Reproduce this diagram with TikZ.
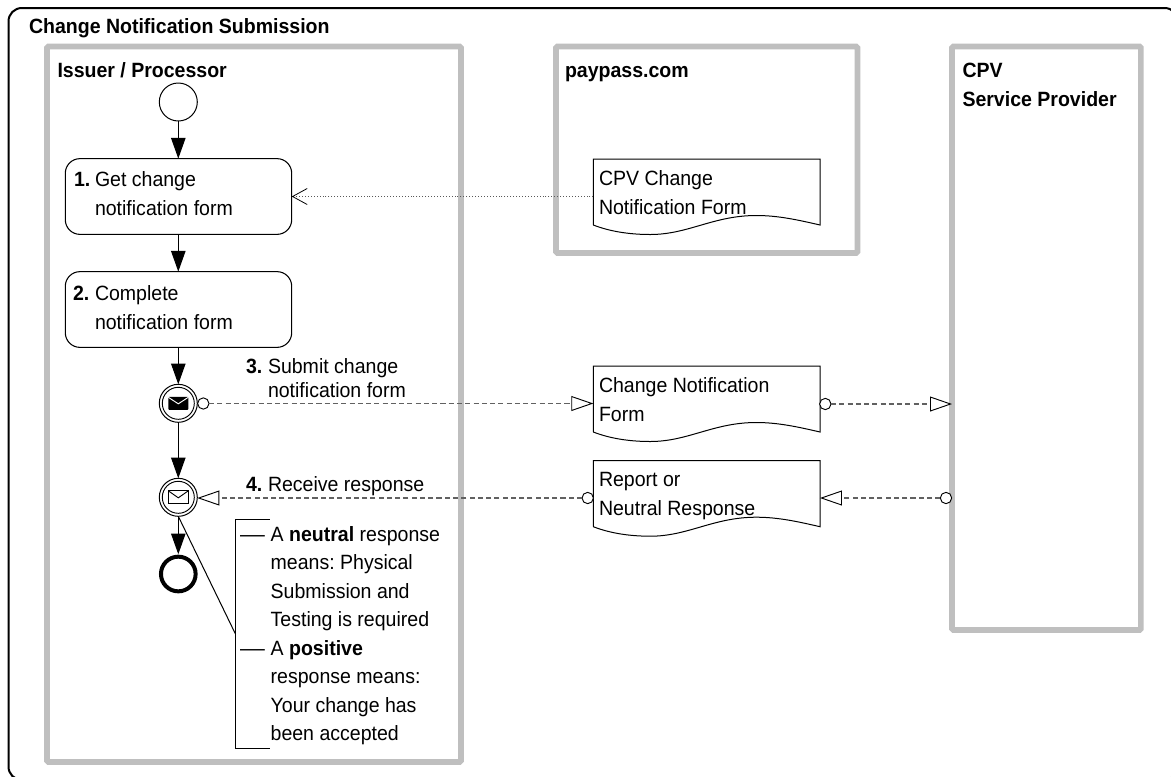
\documentclass[tikz,border=0pt]{standalone}
\usepackage{fontspec}
\setmainfont[FakeStretch=0.945]{Liberation Sans}
\usetikzlibrary{arrows.meta,calc}
\newcommand{\mlines}[2]{\vtop{\baselineskip=#1\lineskip=0pt\lineskiplimit=-100pt #2}}
\newcommand{\numd}[2]{\makebox[#1][l]{\textbf{#2}}}
\tikzset{
  lbl/.style={inner sep=0pt,outer sep=0pt,anchor=base west,font=\fontsize{15.5}{21.75}\selectfont\frenchspacing},
  poolbox/.style={draw=black!25,line width=4.2pt,rounded corners=1pt,inner sep=0pt,outer sep=0pt,anchor=north west},
  taskbox/.style={draw=black,line width=.8pt,rounded corners=11pt,inner sep=0pt,outer sep=0pt,minimum width=169.8pt,minimum height=56.8pt},
  evt/.style={circle,draw=black,line width=.75pt,fill=white,inner sep=0pt,outer sep=0pt,minimum size=28.5pt},
  endevt/.style={circle,draw=black,line width=3pt,fill=white,inner sep=0pt,outer sep=0pt,minimum size=26pt},
  smallc/.style={circle,draw=black,line width=.7pt,fill=white,inner sep=0pt,outer sep=0pt,minimum size=8.5pt},
  docbox/.style={inner sep=0pt,outer sep=0pt,anchor=north west,minimum width=170pt,minimum height=49.5pt},
  flow/.style={draw=black,line width=.8pt,-{Triangle[length=15.5pt,width=10.8pt]}},
  msg/.style={draw=black!62,line width=.85pt,dash pattern=on 3.8pt off 2.4pt,-{Triangle[open,length=16.5pt,width=11.2pt,color=black,line width=.7pt]}},
  dep/.style={draw=black!65,line width=.7pt,dash pattern=on .7pt off 1.5pt,-{Straight Barb[length=11pt,width=12pt,color=black,line width=.6pt]}},
  thin/.style={draw=black,line width=.75pt}
}
\newcommand{\docshape}[2]{%
  \node[docbox] (#1) at (593.3,#2) {};
  \begin{scope}[shift={(#1.south west)}]
  \path[draw=black,line width=.75pt,fill=white]
    (0,0) -- (0,-66) -- (226.7,-66) -- (226.7,0)
    .. controls (205,-5) and (185,-9.5) .. (163,-9.5)
    .. controls (120,-9.5) and (95,9.5) .. (57,9.5)
    .. controls (38,9.5) and (18,7) .. (0,0);
  \end{scope}}
\begin{document}
\begin{tikzpicture}[x=.75pt,y=-.75pt]
\useasboundingbox (0,0) rectangle (1171,776);
\clip (0,0) rectangle (1171,776);
\fill[white] (0,0) rectangle (1171,776);
\draw[black,line width=1.5pt,rounded corners=10pt] (8.5,8) rectangle (1178,780);
\node[lbl] (title) at (29,33) {\textbf{Change Notification Submission}};

\node[poolbox,minimum width=310.5pt,minimum height=536.6pt] (issuer) at (47,46.5) {};
\node[poolbox,minimum width=226.1pt,minimum height=154.9pt] (paypass) at (556,46.5) {};
\node[poolbox,minimum width=141.7pt,minimum height=437.6pt] (cpv) at (952,46.5) {};
\node[lbl] (issuerl) at (57.5,77.5) {\textbf{Issuer / Processor}};
\node[lbl] (paypassl) at (565,77.5) {\textbf{paypass.com}};
\node[lbl] (cpvl) at (962.5,77.5) {\mlines{22pt}{\hbox{\textbf{CPV}}\hbox{\textbf{Service Provider}}}};

\node[evt] (start) at (178.3,102) {};
\node[taskbox] (t1) at (178.5,196.5) {};
\node[taskbox] (t2) at (178.5,309.5) {};
\node[lbl] (t1l) at (74,186.7) {\mlines{21.75pt}{\hbox{\numd{15.75pt}{1.}Get change}\hbox{\hspace{15.75pt}notification form}}};
\node[lbl] (t2l) at (73,300) {\mlines{21.75pt}{\hbox{\numd{16.5pt}{2.}Complete}\hbox{\hspace{16.5pt}notification form}}};

\node[evt] (ev3) at (178.3,403.3) {};
\node[evt] (ev4) at (178.3,497.3) {};
\node[endevt] (end) at (178.3,574) {};
\draw[black,line width=.7pt] (ev3) circle[radius=12pt];
\draw[black,line width=.7pt] (ev4) circle[radius=12pt];
\coordinate (e3a) at ($(ev3)+(-10,-6.5)$);
\coordinate (e3b) at ($(ev3)+(10,6.5)$);
\fill[black,rounded corners=.6pt] (e3a) rectangle (e3b);
\draw[white,line width=.7pt] ($(ev3)+(-10,-6)$) -- ($(ev3)+(0,0.5)$) -- ($(ev3)+(10,-6)$);
\coordinate (e4a) at ($(ev4)+(-10,-6.5)$);
\coordinate (e4b) at ($(ev4)+(10,6.5)$);
\draw[black,line width=.7pt] (e4a) rectangle (e4b);
\draw[black,line width=.7pt] (e4a) -- ($(ev4)+(0,0.5)$) -- ($(ev4)+(10,-6.5)$);

\draw[flow] (start) -- (start |- t1.north);
\draw[flow] (t1.south -| start) -- (t2.north -| start);
\draw[flow] (t2.south -| start) -- (ev3);
\draw[flow] (ev3) -- (ev4);
\draw[flow,shorten >=1.8pt] (ev4) -- (end);

\docshape{d1}{159}
\docshape{d2}{366}
\docshape{d3}{460.7}
\node[lbl] (d1l) at (599,185.7) {\mlines{21.75pt}{\hbox{CPV Change}\hbox{Notification Form}}};
\node[lbl] (d2l) at (599,392.7) {\mlines{21.75pt}{\hbox{Change Notification}\hbox{Form}}};
\node[lbl] (d3l) at (599,486.7) {\mlines{21.75pt}{\hbox{Report or}\hbox{Neutral Response}}};

\node[smallc] (c1) at (203.3,403.5) {};
\node[smallc] (c2) at (825.3,404) {};
\node[smallc] (c3) at (587.7,498) {};
\node[smallc] (c4) at (946,498) {};
\coordinate (dp) at (593.3,196.5);
\draw[dep] (dp) -- (dp -| t1.east);
\draw[msg] (c1.east) -- (c1.east -| d2.west);
\draw[msg] (c2.east) -- (c2.east -| cpv.west);
\draw[msg] (c3.west) -- (c3.west -| ev4.east);
\draw[msg] (c4.west) -- (c4.west -| d3.east);

\node[lbl] (l3) at (246,373.3) {\mlines{18pt}{\hbox{\numd{16.5pt}{3.}Submit change}\hbox{\hspace{16.5pt}notification form}}};
\node[lbl] (l4) at (246,491.7) {\numd{16.5pt}{4.}Receive response};

\node[inner sep=0pt,outer sep=0pt,anchor=north west,minimum width=26pt,minimum height=172pt] (br) at (235.3,519) {};
\draw[thin] (br.north east) -- (br.north west) -- (br.south west) -- (br.south east);
\draw[thin] (ev4.south) -- (br.west);
\node[lbl] (n1) at (240,541) {\mlines{21.45pt}{\hbox{\makebox[23pt][l]{\scalebox{1.27}[1]{—}}A \textbf{neutral} response}\hbox{\hspace{23pt}means: Physical}\hbox{\hspace{23pt}Submission and}\hbox{\hspace{23pt}Testing is required}}};
\node[lbl] (n2) at (240,655) {\mlines{21.45pt}{\hbox{\makebox[23pt][l]{\scalebox{1.27}[1]{—}}A \textbf{positive}}\hbox{\hspace{23pt}response means:}\hbox{\hspace{23pt}Your change has}\hbox{\hspace{23pt}been accepted}}};
\end{tikzpicture}
\end{document}
